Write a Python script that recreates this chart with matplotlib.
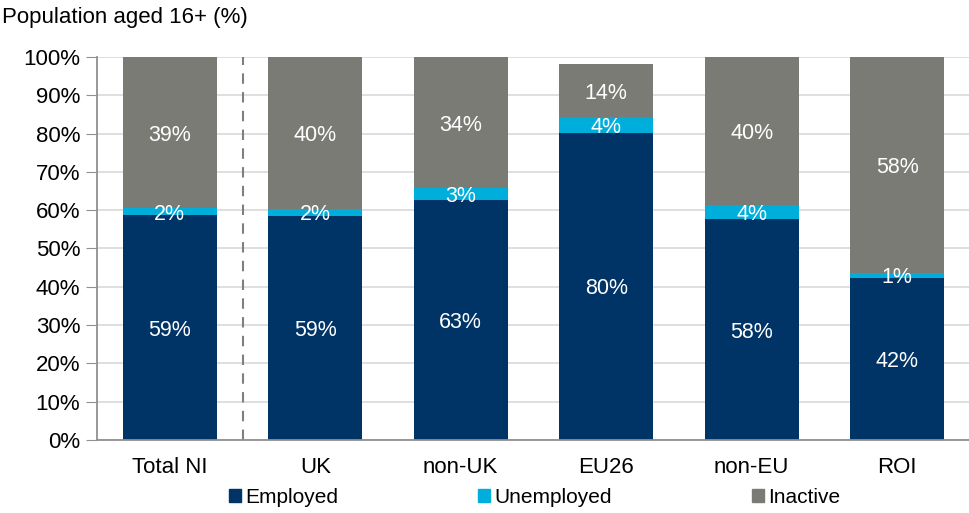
import matplotlib.pyplot as plt
from matplotlib.patches import Patch
import numpy as np

plt.rcParams['font.family'] = ['Liberation Sans', 'DejaVu Sans']

categories = ['Total NI', 'UK', 'non-UK', 'EU26', 'non-EU', 'ROI']
employed = [58.7, 58.6, 62.6, 80.2, 57.6, 42.3]
unemployed = [1.8, 1.7, 3.1, 4.0, 3.8, 1.4]
inactive = [39.4, 40.0, 34.3, 13.9, 39.6, 58.2]
series_names = ['Employed', 'Unemployed', 'Inactive']
colors = ['#003366', '#00AEDB', '#7B7B76']

fig = plt.figure(figsize=(9.7, 5.13), dpi=100)
ax = fig.add_axes([0.1, 0.1423, 0.9, 0.7467])

x = np.arange(len(categories))
width = 0.645
bottom = np.zeros(len(categories))
for vals, col in zip([employed, unemployed, inactive], colors):
    vals = np.array(vals)
    ax.bar(x, vals, width, bottom=bottom, color=col, zorder=2)
    for xi, b, v in zip(x, bottom, vals):
        mid = (b + min(b + v, 100)) / 2
        ax.text(xi, mid, f'{v:.0f}%', ha='center', va='center_baseline',
                color='white', fontsize=15.5, zorder=3)
    bottom += vals

# separator between the total and the breakdown
ax.plot([0.5, 0.5], [0, 100], color='#7f7f7f', lw=1.5,
        dashes=(5, 4), zorder=1)

ax.set_xlim(-0.5, len(categories) - 0.5)
ax.set_ylim(0, 100)
ax.set_yticks(np.arange(0, 101, 10))
ax.set_yticklabels([f'{t}%' for t in range(0, 101, 10)])
ax.set_xticks(x)
ax.set_xticklabels(categories)
ax.tick_params(axis='y', labelsize=16, length=8, color='#909090', pad=4)
ax.tick_params(axis='x', labelsize=16, length=0, pad=12)
ax.yaxis.grid(True, color='#d9d9d9', lw=1.2, zorder=0)
ax.set_axisbelow(True)
for s in ['top', 'right']:
    ax.spines[s].set_visible(False)
for s in ['left', 'bottom']:
    ax.spines[s].set_color('#909090')
    ax.spines[s].set_linewidth(1.3)

fig.text(0.002, 0.965, 'Population aged 16+ (%)', fontsize=16,
         ha='left', va='center')

handles = [Patch(color=c, label=n) for c, n in zip(colors, series_names)]
fig.legend(handles=handles, loc='center', bbox_to_anchor=(0.551, 0.031),
           ncol=3, frameon=False, fontsize=15, handlelength=0.6,
           handleheight=0.6, handletextpad=0.2, columnspacing=6.7,
           borderpad=0)

fig.savefig('out.png', dpi=100)
